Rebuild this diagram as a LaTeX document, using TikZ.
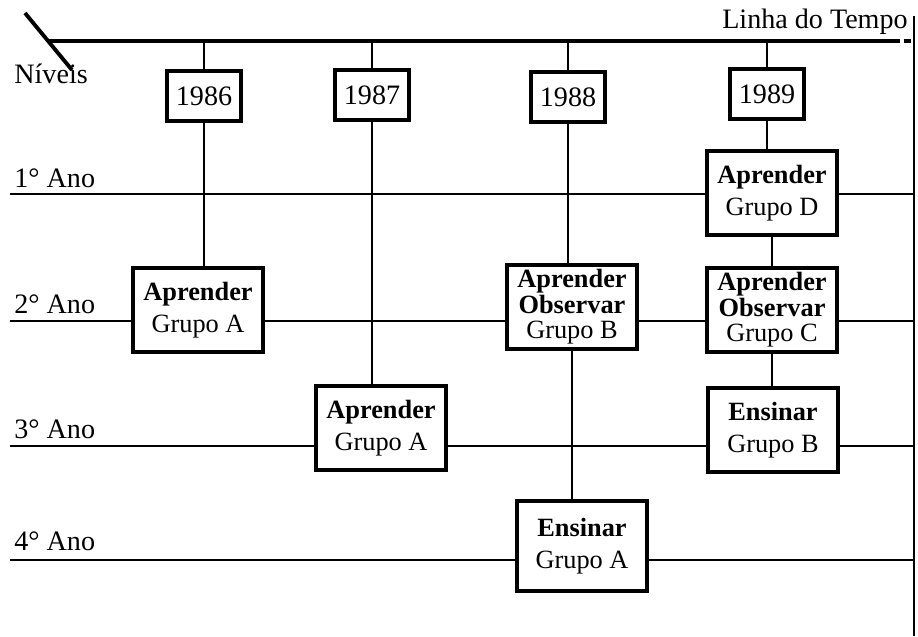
\documentclass[tikz,border=0pt]{standalone}
\usepackage{fontspec}
\setmainfont{Liberation Serif}
\usepackage{tikz}
\usetikzlibrary{calc}

\tikzset{
    timeline/.style={line width=2.2pt},
    levelline/.style={line width=1pt},
    conn/.style={line width=1.5pt},
    yearbox/.style={draw, line width=1.8pt, rectangle, minimum width=1.48cm, minimum height=1cm, inner sep=0pt, font=\fontsize{16}{18}\selectfont},
    stagebox/.style={draw, line width=2pt, rectangle, fill=white, minimum width=2.6cm, minimum height=1.68cm, inner sep=0pt, align=center, font=\fontsize{15}{18}\selectfont},
    tightbox/.style={stagebox, font=\fontsize{15}{14.5}\selectfont},
    levellabel/.style={anchor=base west, inner sep=0pt, font=\fontsize{16}{18}\selectfont}
}

\begin{document}
\begin{tikzpicture}[x=0.02cm, y=-0.02cm]
        \useasboundingbox (0,0) rectangle (918,636);

        % Linha do tempo
        \coordinate (tl) at (48,41);
        \coordinate (tr) at (893,41);
        \coordinate (te) at (912,41);
        \draw[timeline] (tl) -- (tr);
        \draw[timeline, dashed, dash pattern=on 4pt off 2pt] (tr) -- (te);
        \draw[timeline] (25,13) -- (72,70);
        \draw[levelline] (914,16) -- (914,636);
        \node[levellabel, anchor=base east] (tempo) at (908,28) {Linha do Tempo};
        \node[levellabel] (niveis) at (14,83) {Níveis};

        % Anos
        \node[yearbox] (y86) at (204,96) {1986};
        \node[yearbox] (y87) at (372,95) {1987};
        \node[yearbox] (y88) at (568,97) {1988};
        \node[yearbox] (y89) at (767,94) {1989};
        \foreach \y in {y86,y87,y88,y89}
            \draw[conn] (\y.north) -- (\y.north |- tl);

        % Etapas
        \node[stagebox] (a86) at (198,310) {\textbf{Aprender}\\Grupo A};
        \node[stagebox] (a87) at (381,428) {\textbf{Aprender}\\Grupo A};
        \node[tightbox] (o88) at (572,307) {\textbf{Aprender}\\\textbf{Observar}\\Grupo B};
        \node[stagebox, minimum height=1.8cm] (e88) at (582,546) {\textbf{Ensinar}\\Grupo A};
        \node[stagebox] (d89) at (772,193) {\textbf{Aprender}\\Grupo D};
        \node[tightbox] (c89) at (772,310) {\textbf{Aprender}\\\textbf{Observar}\\Grupo C};
        \node[stagebox] (e89) at (773,430) {\textbf{Ensinar}\\Grupo B};

        % Colunas
        \draw[conn] (y86.south) -- (y86.south |- a86.north);
        \draw[conn] (y87.south) -- (y87.south |- a87.north);
        \draw[conn] (y88.south) -- (y88.south |- o88.north);
        \draw[conn] (o88.south) -- (o88.south |- e88.north);
        \draw[conn] (y89.south) -- (y89.south |- d89.north);
        \draw[conn] (d89.south) -- (d89.south |- c89.north);
        \draw[conn] (c89.south) -- (c89.south |- e89.north);

        % Niveis
        \coordinate (L1) at (10,194);  \coordinate (R1) at (914,194);
        \coordinate (L2) at (10,321);  \coordinate (R2) at (914,321);
        \coordinate (L3) at (10,446);  \coordinate (R3) at (914,446);
        \coordinate (L4) at (10,560);  \coordinate (R4) at (914,560);
        \node[levellabel] (n1) at ($(L1)+(4,-7)$) {1° Ano};
        \node[levellabel] (n2) at ($(L2)+(4,-8)$) {2° Ano};
        \node[levellabel] (n3) at ($(L3)+(4,-8)$) {3° Ano};
        \node[levellabel] (n4) at ($(L4)+(4,-10)$) {4° Ano};

        \draw[levelline] (L1) -- (L1 -| d89.west);
        \draw[levelline] (d89.east |- L1) -- (R1);
        \draw[levelline] (L2) -- (L2 -| a86.west);
        \draw[levelline] (a86.east |- L2) -- (o88.west |- L2);
        \draw[levelline] (o88.east |- L2) -- (c89.west |- L2);
        \draw[levelline] (c89.east |- L2) -- (R2);
        \draw[levelline] (L3) -- (L3 -| a87.west);
        \draw[levelline] (a87.east |- L3) -- (e89.west |- L3);
        \draw[levelline] (e89.east |- L3) -- (R3);
        \draw[levelline] (L4) -- (L4 -| e88.west);
        \draw[levelline] (e88.east |- L4) -- (R4);
    \end{tikzpicture}
\end{document}
